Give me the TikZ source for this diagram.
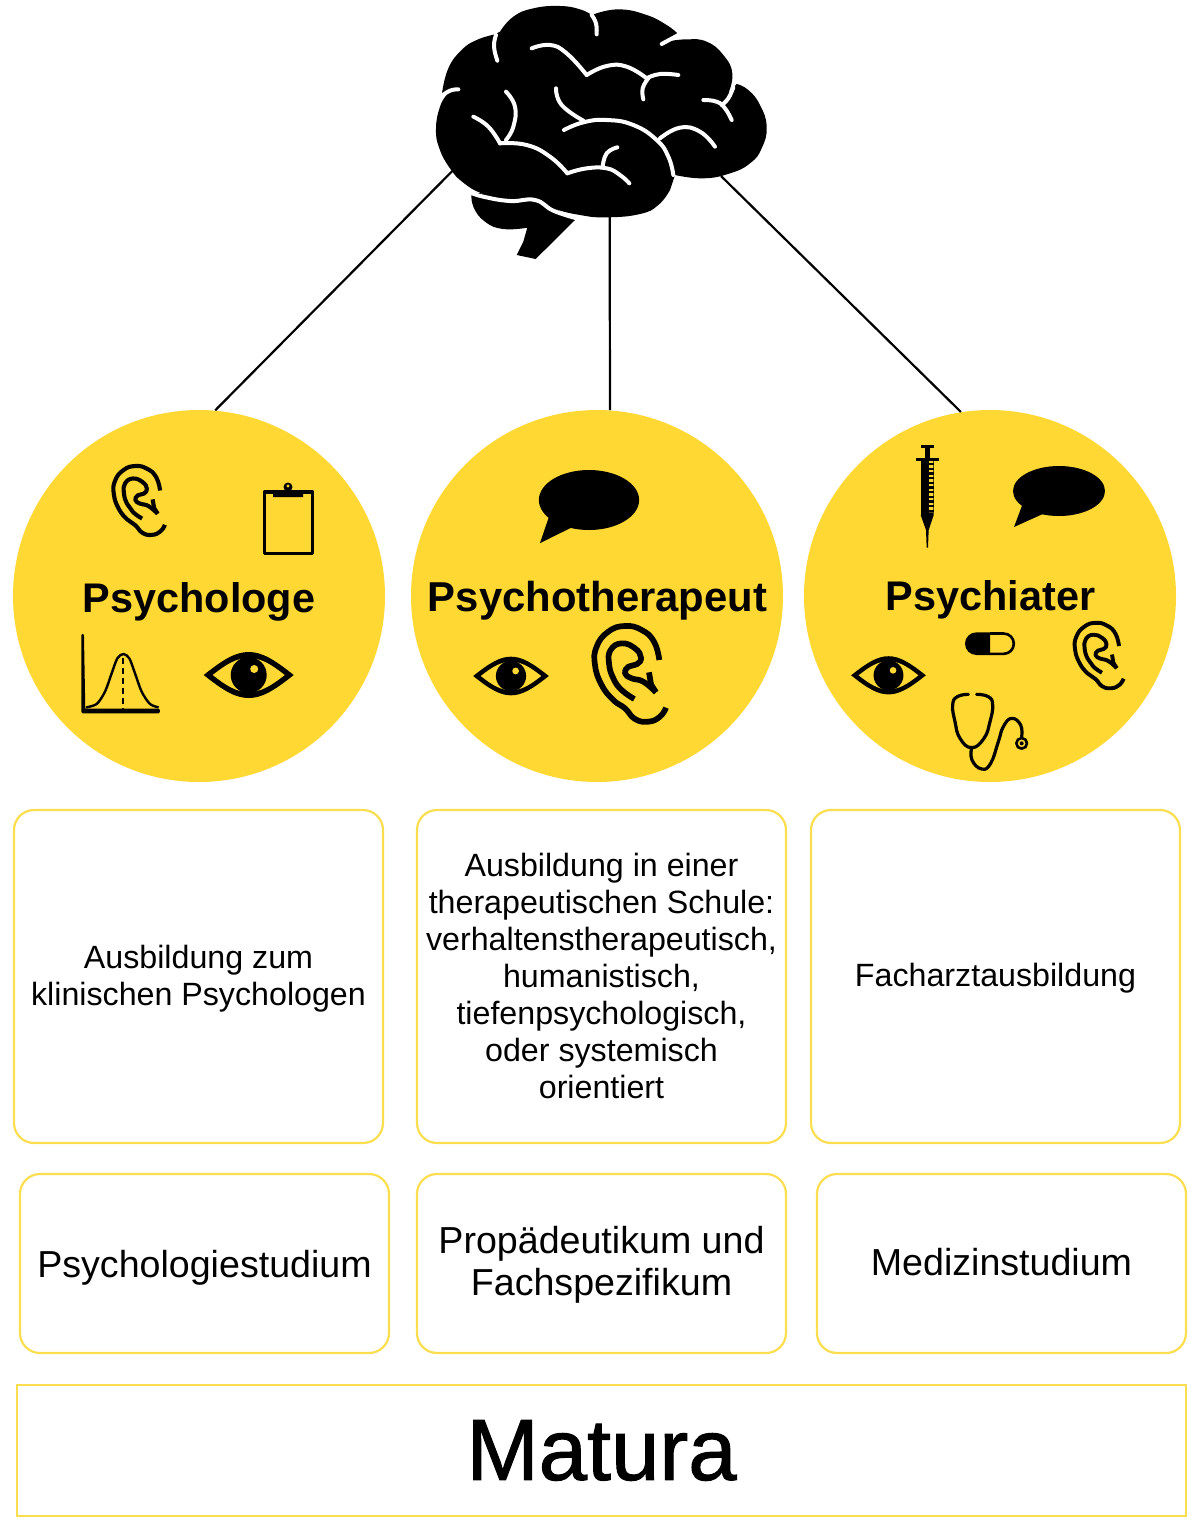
\documentclass[tikz,border=0pt]{standalone}
\usepackage{fontspec}
\setmainfont{Liberation Sans}
\newfontfamily\medfont[FakeBold=1.2]{Liberation Sans}
\definecolor{ygold}{RGB}{255,216,51}
\definecolor{yline}{RGB}{250,222,80}
\tikzset{
 x=0.5pt,y=-0.5pt,
 disc/.style={circle,fill=ygold,minimum size=186pt,inner sep=0pt},
 title/.style={font=\bfseries\fontsize{#1}{#1}\selectfont,inner sep=0pt},
 card/.style={draw=yline,line width=1.1pt,rounded corners=10pt,minimum width=184.5pt,inner sep=0pt},
 small/.style={font=\fontsize{16.1}{18.5}\selectfont,align=center,inner sep=0pt},
 big/.style={font=\fontsize{18.8}{21}\selectfont,align=center,inner sep=0pt},
 link/.style={line width=1.1pt,black},
 sulcus/.style={draw=white,line width=2pt,line cap=round,line join=round},
 icon/.style={line width=#1*0.5pt,line cap=round,line join=round},
 soft/.style={smooth,tension=0.8},
}
\newcommand\earicon[3]{%
 \begin{scope}[shift={(#1,#2)},scale=#3]
 \begin{scope}[scale=1/4.17,shift={(-150,-183)}]
 \draw[icon=4.1*#3,black,line cap=butt] plot[soft] coordinates {(258,278)(240,305)(205,320)(165,312)(135,280)(100,255)(65,210)(45,150)(50,95)(85,50)(135,33)(185,45)(222,80)(238,135)};
 \draw[icon=4.1*#3,black,line cap=butt] plot[soft] coordinates {(163,252)(125,225)(100,190)(87,145)(92,105)(125,85)(165,100)(183,128)(170,148)(145,155)(135,175)(155,190)(190,200)(228,232)};
 \draw[icon=4.1*#3,black,line cap=butt] (207,172)--(213,208)--(228,232);
 \end{scope}
 \end{scope}}
\newcommand\eyeicon[3]{%
 \begin{scope}[shift={(#1,#2)},scale=#3]
 \fill[black] (-45,0) .. controls (-25,-16) and (-13,-23) .. (0,-23) .. controls (13,-23) and (25,-16) .. (45,0) .. controls (25,16) and (13,23) .. (0,23) .. controls (-13,23) and (-25,16) .. (-45,0) -- cycle;
 \fill[ygold] (-36,0) .. controls (-22,-11) and (-12,-17) .. (0,-17) .. controls (12,-17) and (22,-11) .. (36,0) .. controls (22,11) and (12,17) .. (0,17) .. controls (-12,17) and (-22,11) .. (-36,0) -- cycle;
 \fill[black] (0,0) circle[radius=18];
 \fill[ygold] (5.5,-6) circle[radius=4];
 \end{scope}}
\newcommand\bubbleicon[4]{%
 \begin{scope}[shift={(#1,#2)},xscale=#3,yscale=#4]
 \fill[black] (0,0) ellipse[x radius=46,y radius=25];
 \fill[black] (-36,12)--(-45,36)--(-14,22)--cycle;
 \end{scope}}
\begin{document}
\begin{tikzpicture}
\useasboundingbox (0,0) rectangle (1200,1533);
% discs
\node[disc] (psy) at (199,596) {};
\node[disc] (thp) at (597,596) {};
\node[disc] (cht) at (990,596) {};
% brain
\begin{scope}[shift={(420,0)},scale=1/3]
 \coordinate (brainL) at (100,510);
 \coordinate (brainM) at (569,650);
 \coordinate (brainR) at (903,528);
 \fill[black] plot[soft] coordinates {(155,578)(160,620)(195,665)(250,687)(322,683)} -- (310,725) -- (290,765) -- (347,777) -- (465,660) -- (345,590) -- cycle;
 \fill[black] plot[soft] coordinates {(345,598)(270,602)(190,582)(130,548)(90,505)(58,445)(48,385)(60,320)(80,285)}
   -- plot[soft] coordinates {(66,280)(85,205)(125,150)(170,120)(225,103)}
   -- plot[soft] coordinates {(240,95)(280,50)(340,25)(420,18)(480,28)(515,45)}
   -- plot[soft] coordinates {(530,40)(600,28)(680,45)(740,75)(772,100)}
   -- plot[soft] coordinates {(740,125)(800,118)(860,125)(910,165)(937,220)(925,280)}
   -- plot[soft] coordinates {(950,252)(985,270)(1020,315)(1040,380)(1025,445)(990,490)(930,520)(850,535)(765,525)}
   -- plot[soft] coordinates {(750,570)(715,615)(660,642)(560,652)(480,645)(400,625)(345,598)} -- cycle;
 \draw[sulcus] plot[soft] coordinates {(150,577)(190,590)(270,603)(345,600)(400,632)(470,655)};
 \draw[sulcus] plot[soft] coordinates {(228,105)(222,140)(232,182)};
 \draw[sulcus] plot[soft] coordinates {(515,45)(528,70)(530,103)};
 \draw[sulcus] (775,105)--(725,132);
 \draw[sulcus] plot[soft] coordinates {(62,290)(90,272)(115,268)};
 \draw[sulcus] plot[soft] coordinates {(335,145)(390,135)(440,160)(500,225)};
 \draw[sulcus] plot[soft] coordinates {(500,225)(560,198)(620,200)(680,235)};
 \draw[sulcus] plot[soft] coordinates {(680,235)(720,222)(775,225)};
 \draw[sulcus] plot[soft] coordinates {(685,235)(668,265)(670,298)};
 \draw[sulcus] plot[soft] coordinates {(940,262)(925,295)(905,315)};
 \draw[sulcus] plot[soft] coordinates {(850,300)(890,305)(915,325)(935,360)};
 \draw[sulcus] plot[soft] coordinates {(408,265)(425,315)(490,362)};
 \draw[sulcus] plot[soft] coordinates {(432,390)(490,367)(560,360)(640,375)(710,420)(745,470)(760,525)};
 \draw[sulcus] plot[soft] coordinates {(720,415)(780,383)(840,395)(885,440)};
 \draw[sulcus] plot[soft] coordinates {(160,350)(205,380)(240,430)};
 \draw[sulcus] plot[soft] coordinates {(240,430)(320,435)(390,470)(442,520)};
 \draw[sulcus] plot[soft] coordinates {(442,520)(500,505)(560,505)(600,525)(628,550)};
 \draw[sulcus] plot[soft] coordinates {(258,275)(285,320)(280,380)(258,420)};
 \draw[sulcus] plot[soft] coordinates {(592,442)(560,460)(548,500)};
\end{scope}
% connectors
\draw[link] (brainL) -- (psy.85);
\draw[link] (brainM) -- (thp.86);
\draw[link] (brainR) -- (cht.99);
% titles
\node[title=20.7] (t1) at (199,601.5) {Psychologe};
\node[title=20.9] (t2) at (597.5,600.5) {Psychotherapeut};
\node[title=20.7] (t3) at (990.5,600) {Psychiater};
% ears
\earicon{139}{502}{1}
\earicon{630}{676}{1.39}
\earicon{1099}{657}{0.95}
% eyes
\eyeicon{248.7}{675}{1}
\eyeicon{511}{676}{0.84}
\eyeicon{888.5}{675.3}{0.83}
% bubbles
\bubbleicon{589}{500}{1.09}{1.2}
\bubbleicon{1059}{491}{1}{1}
% clipboard
\draw[icon=3.2,black] (264.5,492) rectangle (312.5,553.5);
\fill[black] (273,497)--(303,497)--(303,492)--(296,491)--(280,491)--(273,492)--cycle;
\fill[black] (288,487) circle[radius=4.5];
\fill[ygold] (288,486) circle[radius=1.6];
% normal curve
\begin{scope}[shift={(60,450)},scale=1/3]
 \draw[icon=2.6,line cap=butt] (68,555)--(68,786)--(296,786)--(296,780)--(72,780)--cycle;
 \draw[icon=2.4,line cap=butt] plot[smooth] coordinates {(78,772)(110,762)(135,725)(155,670)(172,625)(190,612)(208,625)(225,670)(245,725)(270,762)(296,772)};
 \draw[icon=2.2,dash pattern=on 3pt off 2pt,line cap=butt] (190,625)--(190,780);
\end{scope}
% syringe, pill, stethoscope
\begin{scope}[shift={(840,435)},scale=1/3]
 \fill[black] (242,30) rectangle (282,38);
 \fill[black] (255,30) rectangle (270,75);
 \fill[black] (227,70) rectangle (297,78);
 \fill[black] (242,78) rectangle (266,240);
 \foreach \yy in {84,98,112,126,140,154,168,182,196,210,224}{\fill[black] (266,\yy) rectangle (281,\yy+7);}
 \fill[black] (281,78)--(281,240)--(266,240)--(266,232)--(279,232)--(279,78)--cycle;
 \fill[black] (242,240)--(281,240)--(266,285)--(264,338)--(260,338)--(258,285)--cycle;
 % pill
 \fill[black] (450,592) -- (409,592) arc[start angle=-90,end angle=-270,radius=34] -- (450,660) -- cycle;
 \draw[icon=2.6,line cap=butt] (450,595.5) -- (491,595.5) arc[start angle=-90,end angle=90,radius=30.5] -- (450,656.5);
 % stethoscope
 \draw[icon=3.2] plot[soft] coordinates {(385,778)(352,785)(338,810)(345,860)(360,910)(395,938)(432,910)(450,860)(458,810)(445,785)(410,778)};
 \draw[icon=3.2] plot[soft] coordinates {(395,938)(396,975)(425,1002)(452,985)(475,920)(490,875)(515,850)(542,870)(545,905)};
 \draw[icon=2.6,fill=ygold] (545,925) circle[radius=16];
 \fill[black] (545,925) circle[radius=6];
\end{scope}
% cards
\node[card,minimum height=166.5pt] (a1) at (198.5,976.5) {};
\node[card,minimum height=166.5pt] (a2) at (601.5,976.5) {};
\node[card,minimum height=166.5pt] (a3) at (995.5,976.5) {};
\node[card,minimum height=89.5pt] (b1) at (204.5,1263.5) {};
\node[card,minimum height=89.5pt] (b2) at (601.5,1263.5) {};
\node[card,minimum height=89.5pt] (b3) at (1001.5,1263.5) {};
\node[small] (ta1) at (198.5,978.5) {Ausbildung zum\\klinischen Psychologen};
\node[small] (ta2) at (601.5,975.5) {Ausbildung in einer\\therapeutischen Schule:\\verhaltenstherapeutisch,\\humanistisch,\\tiefenpsychologisch,\\oder systemisch\\orientiert};
\node[small] (ta3) at (995.5,978.5) {Facharztausbildung};
\node[big] (tb1) at (204.5,1267.5) {Psychologiestudium};
\node[big] (tb2) at (601.5,1265) {Propädeutikum und\\Fachspezifikum};
\node[big] (tb3) at (1001.5,1262.5) {Medizinstudium};
% base
\node[draw=yline,line width=1.1pt,minimum width=584.5pt,minimum height=65.5pt,inner sep=0pt,font=\medfont\fontsize{43.4}{43}\selectfont] (m) at (601.5,1450.5) {Matura};
\end{tikzpicture}
\end{document}
